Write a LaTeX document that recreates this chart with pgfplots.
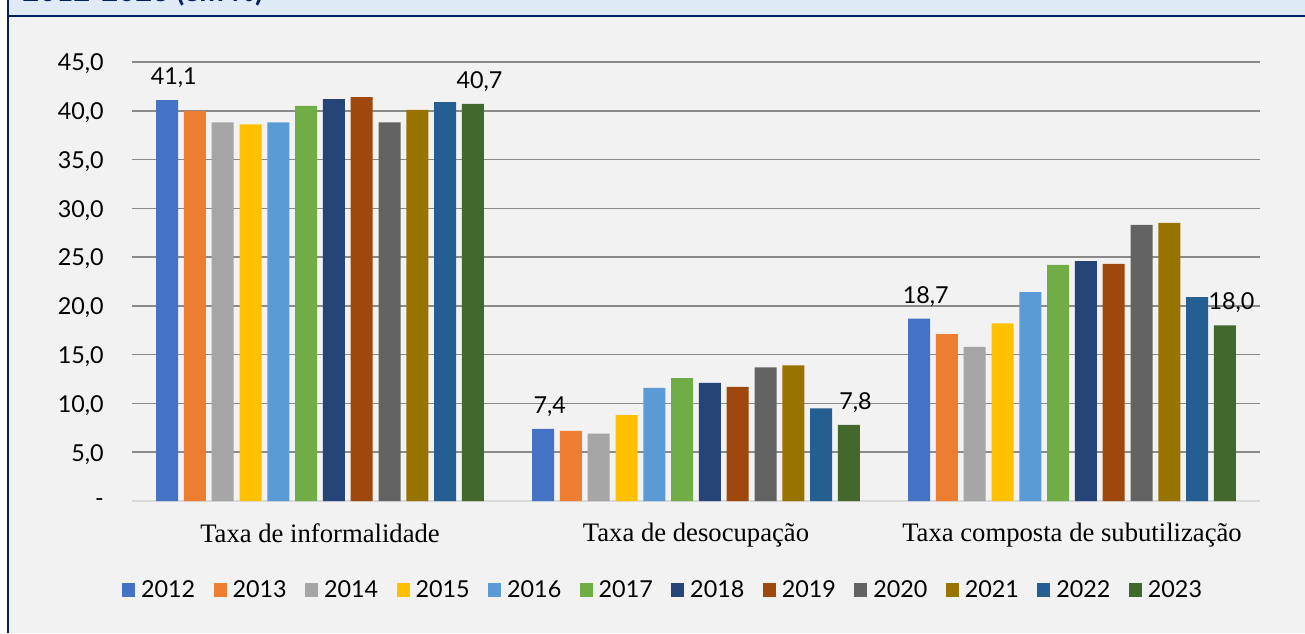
\documentclass[border=0pt]{standalone}
\usepackage{pgfplots}
\pgfplotsset{compat=1.18}
\usepackage{fontspec}
\setmainfont{Lato}
\newfontfamily\catfont{Liberation Serif}
\definecolor{c12}{HTML}{4472C4}
\definecolor{c13}{HTML}{ED7D31}
\definecolor{c14}{HTML}{A5A5A5}
\definecolor{c15}{HTML}{FFC000}
\definecolor{c16}{HTML}{5B9BD5}
\definecolor{c17}{HTML}{70AD47}
\definecolor{c18}{HTML}{264478}
\definecolor{c19}{HTML}{9E480E}
\definecolor{c20}{HTML}{636363}
\definecolor{c21}{HTML}{997300}
\definecolor{c22}{HTML}{255E91}
\definecolor{c23}{HTML}{43682B}
\definecolor{bgc}{HTML}{F2F2F2}
\definecolor{hdr}{HTML}{DEEAF6}
\definecolor{navy}{HTML}{002060}
\definecolor{gridc}{HTML}{8A8A8A}
\definecolor{zeroc}{HTML}{D9D9D9}
\begin{document}
\begin{tikzpicture}[x=0.75pt,y=0.75pt]
\useasboundingbox (0,0) rectangle (1305,633);
\clip (0,0) rectangle (1305,633);
\fill[white] (0,0) rectangle (1305,633);
\fill[bgc] (8,0) rectangle (1305,617);
\fill[hdr] (8,617) rectangle (1305,633);
\draw[navy, line width=1.5pt] (8,617) -- (1305,617);
\draw[navy, line width=1.5pt] (8,0) -- (8,633);
\node[anchor=base west, inner sep=0pt, text=navy, font=\bfseries\fontsize{22}{22}\selectfont] at (22,631) {2012-2023 (em \%)};
\begin{axis}[
  at={(99pt,99pt)}, anchor=south west,
  scale only axis, width=846pt, height=329.25pt,
  xmin=-0.5, xmax=2.5, ymin=0, ymax=45,
  enlarge x limits=false,
  ybar=4.35pt, bar width=16.5pt,
  axis x line*=bottom, axis y line*=left,
  x axis line style={draw=zeroc, line width=1.5pt, -},
  y axis line style={draw=none},
  tick style={draw=none}, major tick length=0pt,
  xtick={0,1,2},
  xticklabels={Taxa de informalidade, Taxa de desocupação, Taxa composta de subutilização},
  xticklabel style={font=\catfont\fontsize{20}{20}\selectfont, anchor=north, inner sep=0pt, yshift=-16.5pt},
  ytick={5,10,...,45},
  yticklabels={{5,0},{10,0},{15,0},{20,0},{25,0},{30,0},{35,0},{40,0},{45,0}},
  extra y ticks={0}, extra y tick labels={-},
  extra y tick style={grid=none},
  yticklabel style={font=\fontsize{17.5}{17.5}\selectfont, anchor=east, inner sep=0pt, xshift=-21pt, yshift=-1.5pt},
  ymajorgrids, grid style={draw=gridc, line width=1.1pt},
  /pgf/number format/.cd, use comma, fixed, fixed zerofill, precision=1, assume math mode=true,
  /pgfplots/.cd,
  every axis plot/.append style={draw=none, legend image code/.code={\fill[##1] (0pt,-4.9pt) rectangle (9.75pt,4.9pt);}},
  nodes near coords style={font=\fontsize{17.5}{17.5}\selectfont, anchor=south, inner sep=0pt, yshift=9pt, xshift=5pt, text=black},
  legend columns=12,
  legend style={at={(0.4699,-0.2027)}, anchor=center, draw=none, fill=none,
    font=\fontsize{17.5}{17.5}\selectfont,
    nodes={inner sep=0pt},
    /tikz/every odd column/.style={column sep=4.5pt},
    /tikz/every even column/.style={column sep=13.8pt}},
]
\addplot[fill=c12, nodes near coords] coordinates {(0,41.1) (1,7.4) (2,18.7)};
\addplot[fill=c13] coordinates {(0,40.0) (1,7.2) (2,17.1)};
\addplot[fill=c14] coordinates {(0,38.8) (1,6.9) (2,15.8)};
\addplot[fill=c15] coordinates {(0,38.6) (1,8.8) (2,18.2)};
\addplot[fill=c16] coordinates {(0,38.8) (1,11.6) (2,21.4)};
\addplot[fill=c17] coordinates {(0,40.5) (1,12.6) (2,24.2)};
\addplot[fill=c18] coordinates {(0,41.2) (1,12.1) (2,24.6)};
\addplot[fill=c19] coordinates {(0,41.4) (1,11.7) (2,24.3)};
\addplot[fill=c20] coordinates {(0,38.8) (1,13.7) (2,28.3)};
\addplot[fill=c21] coordinates {(0,40.1) (1,13.9) (2,28.5)};
\addplot[fill=c22] coordinates {(0,40.9) (1,9.5) (2,20.9)};
\addplot[fill=c23, nodes near coords] coordinates {(0,40.7) (1,7.8) (2,18.0)};
\legend{2012,2013,2014,2015,2016,2017,2018,2019,2020,2021,2022,2023}
\end{axis}
\end{tikzpicture}
\end{document}
